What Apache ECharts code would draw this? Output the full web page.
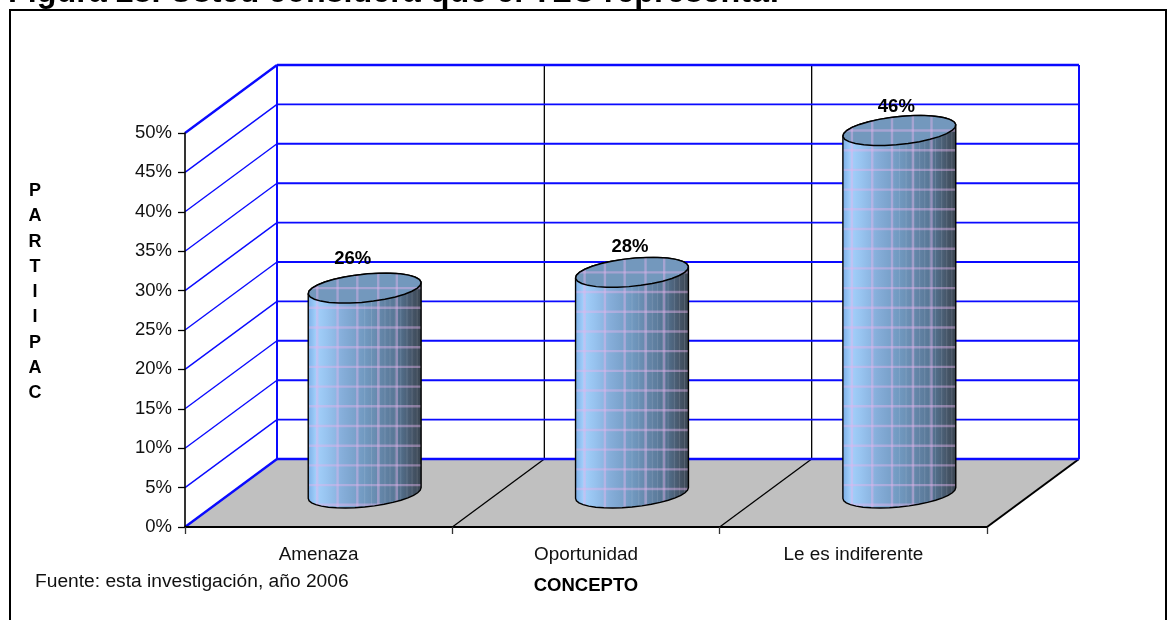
<!DOCTYPE html>
<html><head><meta charset="utf-8">
<style>html,body{margin:0;padding:0;background:#fff}#c{width:1173px;height:620px}</style>
<script src="https://cdn.jsdelivr.net/npm/echarts@6/dist/echarts.min.js"></script>
</head><body><div id="c"></div>
<script>
const categories = ['Amenaza', 'Oportunidad', 'Le es indiferente'];
const participation = [26, 28, 46];
const yTicks = [0, 5, 10, 15, 20, 25, 30, 35, 40, 45, 50];
const yAxisLetters = ['P', 'A', 'R', 'T', 'I', 'I', 'P', 'A', 'C'];
const xAxisTitle = 'CONCEPTO';
const chartTitle = 'Figura 28. Usted considera que el TLC representa:';
const sourceNote = 'Fuente: esta investigación, año 2006';

// look of the pseudo-3D scene (not data)
const FONT = '"Liberation Sans", Arial, sans-serif';
const DX = 92, DY = 68;
const BLUE = '#0a0aff';
const labelNudge = [[-12, -29], [-2, -25], [-3, -24]];
const shadeStops = [
  [0, '#7db0e8'], [0.07, '#a3d0fb'], [0.16, '#98c4f0'], [0.3, '#86aeda'], [0.5, '#7199c0'],
  [0.66, '#6384a6'], [0.8, '#557391'], [0.92, '#465669'], [1, '#3a4551']
];
const plaidX = [0.08, 0.26, 0.435, 0.62, 0.785];
const glossX = [0.5, 0.56, 0.63, 0.68, 0.725, 0.77, 0.82, 0.875, 0.92, 0.965];

function renderScene(params, api) {
  const band = api.size([1, 0])[0];
  const [x0, y0] = api.coord([0, 0]);
  const left = x0 - band / 2, right = left + band * categories.length;
  const top = api.coord([0, yTicks[yTicks.length - 1]])[1];
  const line = (x1, y1, x2, y2, stroke, lineWidth) =>
    ({ type: 'line', shape: { x1, y1, x2, y2 }, style: { stroke, lineWidth } });
  const children = [{
    type: 'polygon',
    shape: { points: [[left, y0], [right, y0], [right + DX, y0 - DY], [left + DX, y0 - DY]] },
    style: { fill: '#c0c0c0' }
  }];
  for (let i = 1; i < categories.length; i++) {
    const x = left + band * i;
    children.push(line(x, y0, x + DX, y0 - DY, '#000', 1.3));
    children.push(line(x + DX, y0 - DY, x + DX, top - DY, '#000', 1.3));
  }
  children.push(line(right, y0, right + DX, y0 - DY, '#000', 2));
  children.push(line(left + DX, y0 - DY, left + DX, top - DY, BLUE, 2));
  children.push(line(right + DX, y0 - DY, right + DX, top - DY, BLUE, 2));
  return { type: 'group', children };
}

function renderGrid(params, api) {
  const v = api.value(1);
  const band = api.size([1, 0])[0];
  const [x0, y] = api.coord([0, v]);
  const left = x0 - band / 2, right = left + band * categories.length;
  const edge = v === yTicks[0] || v === yTicks[yTicks.length - 1];
  return {
    type: 'group',
    children: [
      { type: 'line', shape: { x1: left, y1: y, x2: left + DX, y2: y - DY }, style: { stroke: BLUE, lineWidth: edge ? 2.4 : 1.4 } },
      { type: 'line', shape: { x1: left + DX, y1: y - DY, x2: right + DX, y2: y - DY }, style: { stroke: BLUE, lineWidth: edge ? 2.4 : 1.9 } }
    ]
  };
}

function renderCylinder(params, api) {
  const i = api.value(0), v = api.value(1);
  const band = api.size([1, 0])[0];
  const step = api.size([0, 2.5])[1];
  const [fx, fy] = api.coord([i, 0]);
  const topY = api.coord([i, v])[1] - DY / 2;
  const baseY = fy - DY / 2;
  const cx = fx + DX / 2;
  const a = band * 0.197, b = 15, vx = b * DX / DY;
  const t0 = Math.atan2(vx, a);
  const ext = Math.hypot(a, vx);
  const pt = (t, cy) => [cx + a * Math.cos(t) + vx * Math.sin(t), cy - b * Math.sin(t)];
  const arc = (from, to, cy, n) => {
    const out = [];
    for (let k = 0; k <= n; k++) out.push(pt(from + (to - from) * k / n, cy));
    return out;
  };
  const bodyPts = arc(t0, t0 + Math.PI, topY, 16).concat(arc(t0 + Math.PI, t0 + 2 * Math.PI, baseY, 18));
  const ellipsePts = arc(0, 2 * Math.PI, topY, 30);
  const L = cx - ext, W = 2 * ext;
  const plaid = 'rgba(226,180,236,0.45)';
  const bodyLines = [], capLines = [];
  plaidX.forEach(f => {
    const x = L + f * W;
    const seg = { type: 'line', shape: { x1: x, y1: topY - 20, x2: x, y2: baseY + 20 }, style: { stroke: plaid, lineWidth: 2.4 } };
    bodyLines.push(seg);
    capLines.push(seg);
  });
  glossX.forEach(f => {
    const x = L + f * W;
    bodyLines.push({ type: 'line', shape: { x1: x, y1: topY - 20, x2: x, y2: baseY + 20 }, style: { stroke: 'rgba(235,235,250,0.14)', lineWidth: 1 } });
  });
  for (let y = topY; y < baseY + 20; y += step) {
    bodyLines.push({ type: 'line', shape: { x1: L, y1: y, x2: L + W, y2: y }, style: { stroke: plaid, lineWidth: 2.4 } });
  }
  capLines.push({ type: 'line', shape: { x1: L, y1: topY, x2: L + W, y2: topY }, style: { stroke: plaid, lineWidth: 2.4 } });
  const nudge = labelNudge[i];
  return {
    type: 'group',
    children: [
      { type: 'polygon', shape: { points: bodyPts },
        style: { fill: { type: 'linear', x: 0, y: 0, x2: 1, y2: 0, colorStops: shadeStops.map(s => ({ offset: s[0], color: s[1] })) } } },
      { type: 'group', children: bodyLines, clipPath: { type: 'polygon', shape: { points: bodyPts } } },
      { type: 'polygon', shape: { points: bodyPts }, style: { fill: 'none', stroke: '#000', lineWidth: 1.4 } },
      { type: 'polygon', shape: { points: ellipsePts }, style: { fill: '#7398bd' } },
      { type: 'group', children: capLines, clipPath: { type: 'polygon', shape: { points: ellipsePts } } },
      { type: 'polygon', shape: { points: ellipsePts }, style: { fill: 'none', stroke: '#000', lineWidth: 1.5 } },
      { type: 'text', x: cx + nudge[0], y: topY + nudge[1],
        style: { text: v + '%', font: 'bold 18.5px ' + FONT, fill: '#000', align: 'center', verticalAlign: 'middle' } }
    ]
  };
}

const chart = echarts.init(document.getElementById('c'), null, { renderer: 'canvas' });
chart.setOption({
  animation: false,
  backgroundColor: '#fff',
  title: {
    text: chartTitle, left: 3, top: -28,
    textStyle: { fontFamily: FONT, fontWeight: 'bold', fontSize: 32.3, color: '#000' }
  },
  grid: { left: 185, right: 186, top: 133, bottom: 93 },
  xAxis: {
    type: 'category', data: categories, z: 10,
    axisLine: { lineStyle: { color: '#000', width: 2 } },
    axisTick: { show: true, length: 7, lineStyle: { color: '#333', width: 1.3 } },
    axisLabel: { fontFamily: FONT, fontSize: 18.9, color: '#111', margin: 18 },
    name: xAxisTitle, nameLocation: 'middle', nameGap: 49,
    nameTextStyle: { fontFamily: FONT, fontSize: 18.5, fontWeight: 'bold', color: '#000' }
  },
  yAxis: {
    type: 'value', min: 0, max: 50, interval: 5, z: 10,
    axisLine: { show: true, lineStyle: { color: '#000', width: 1.6 } },
    axisTick: { show: true, length: 7, lineStyle: { color: '#000', width: 1.3 } },
    axisLabel: { fontFamily: FONT, fontSize: 18.5, color: '#111', margin: 13, padding: [8, 0, 0, 0], formatter: '{value}%' },
    splitLine: { show: false }
  },
  graphic: [
    { type: 'polyline', shape: { points: [[10, 620], [10, 10], [1166, 10], [1166, 620]] }, style: { fill: 'none', stroke: '#000', lineWidth: 2 } },
    { type: 'text', left: 35, top: 572, style: { text: sourceNote, font: '19.2px ' + FONT, fill: '#111' } },
    { type: 'group', children: yAxisLetters.map((ch, k) => ({
        type: 'text', x: 35, y: 191 + k * 25.3,
        style: { text: ch, font: 'bold 18px ' + FONT, fill: '#000', align: 'center', verticalAlign: 'middle' }
      })) }
  ],
  series: [
    { type: 'custom', name: 'floor', z: 1, silent: true, clip: false, renderItem: renderScene, data: [[0, 0]], encode: { x: 0, y: 1 } },
    { type: 'custom', name: 'grid', z: 2, silent: true, clip: false, renderItem: renderGrid, data: yTicks.map(t => [0, t]), encode: { x: 0, y: 1 } },
    { type: 'custom', name: 'Participación', z: 3, silent: true, clip: false, renderItem: renderCylinder,
      data: participation.map((v, i) => [i, v]), encode: { x: 0, y: 1 } }
  ]
});
</script></body></html>
